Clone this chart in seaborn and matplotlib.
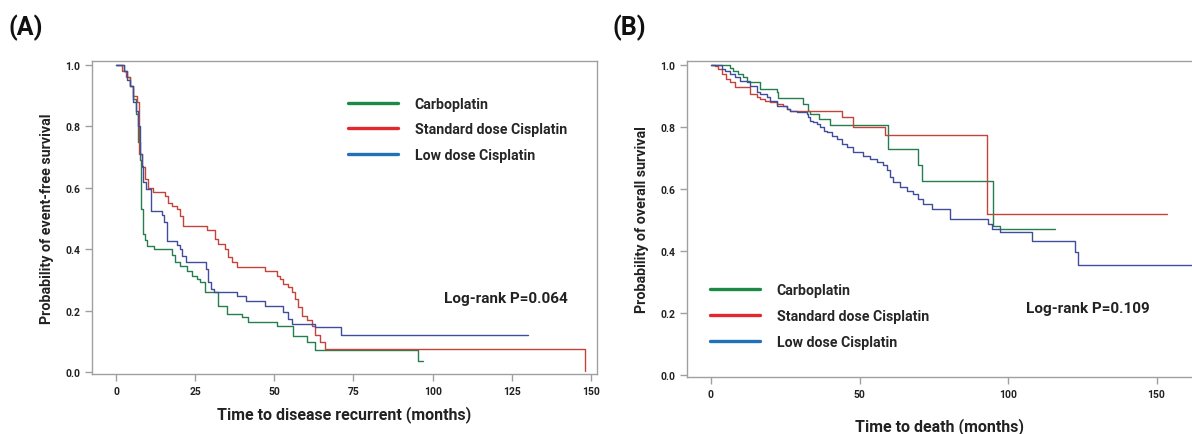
import matplotlib
matplotlib.use('Agg')
import matplotlib.pyplot as plt
from matplotlib.lines import Line2D
import seaborn as sns
import pandas as pd

# grupos
groups = ['Carboplatin', 'Standard dose Cisplatin', 'Low dose Cisplatin']

# (A) sobrevida livre de evento
a_carbo_t = [0, 2.5, 3.5, 4.5, 5.5, 6.3, 7.0, 7.5, 8.0, 8.5, 9.0, 9.8, 12.0, 17.6, 18.6, 20.2, 22.3, 23.9,
             25.5, 26.5, 28.1, 32.3, 35.0, 39.7, 41.8, 50.7, 56.0, 60.2, 63.0, 95.4, 97.0]
a_carbo_s = [1.0, 0.98, 0.96, 0.93, 0.89, 0.84, 0.75, 0.69, 0.53, 0.45, 0.43, 0.41, 0.40, 0.38, 0.357, 0.346,
             0.33, 0.314, 0.303, 0.292, 0.26, 0.216, 0.189, 0.178, 0.162, 0.151, 0.118, 0.097, 0.072, 0.037, 0.037]

a_std_t = [0, 2.0, 3.0, 4.5, 5.5, 6.5, 7.3, 8.3, 9.2, 10.2, 11.8, 15.5, 16.5, 17.6, 19.2, 20.2, 21.3, 28.6,
           31.3, 32.3, 34.4, 35.5, 36.5, 38.1, 47.1, 50.7, 51.8, 52.8, 54.4, 55.5, 56.5, 57.6, 58.6, 60.2,
           61.8, 62.9, 64.4, 66.0, 148.1]
a_std_s = [1.0, 0.98, 0.96, 0.93, 0.90, 0.88, 0.71, 0.667, 0.629, 0.60, 0.585, 0.574, 0.552, 0.542, 0.531,
           0.509, 0.477, 0.461, 0.433, 0.417, 0.401, 0.374, 0.357, 0.341, 0.33, 0.314, 0.303, 0.287, 0.276,
           0.26, 0.238, 0.211, 0.184, 0.168, 0.151, 0.119, 0.097, 0.075, 0.004]

a_low_t = [0, 2.5, 3.5, 4.5, 5.5, 6.2, 7.0, 7.5, 8.2, 8.6, 9.5, 10.9, 14.4, 15.0, 16.0, 19.2, 20.2, 21.0,
           22.0, 28.4, 29.0, 30.0, 31.0, 38.1, 41.0, 47.0, 52.8, 54.4, 55.5, 63.0, 71.2, 130.0]
a_low_s = [1.0, 0.98, 0.95, 0.93, 0.88, 0.85, 0.80, 0.71, 0.67, 0.62, 0.596, 0.525, 0.51, 0.487, 0.428,
           0.415, 0.401, 0.379, 0.357, 0.336, 0.292, 0.27, 0.261, 0.248, 0.232, 0.216, 0.194, 0.173, 0.157,
           0.145, 0.12, 0.12]

# (B) sobrevida global
b_carbo_t = [0, 6.4, 7.5, 9.2, 10.9, 12.0, 13.1, 16.5, 22.1, 22.7, 31.1, 32.8, 33.3, 36.2, 40.1, 59.7,
             69.8, 70.9, 95.1, 97.3, 115.8]
b_carbo_s = [1.0, 0.992, 0.981, 0.971, 0.96, 0.949, 0.944, 0.922, 0.912, 0.893, 0.874, 0.853, 0.842, 0.826,
             0.805, 0.729, 0.676, 0.627, 0.482, 0.471, 0.471]

b_std_t = [0, 1.35, 2.5, 3.6, 5.2, 6.4, 8.1, 13.1, 15.4, 16.5, 18.2, 19.9, 22.1, 24.4, 25.5, 26.6, 44.0,
           47.9, 58.6, 92.8, 153.4]
b_std_s = [1.0, 0.998, 0.987, 0.971, 0.955, 0.944, 0.928, 0.906, 0.896, 0.89, 0.885, 0.88, 0.874, 0.869,
           0.858, 0.853, 0.831, 0.799, 0.774, 0.519, 0.519]

b_low_t = [0, 3.6, 4.7, 6.4, 8.1, 9.8, 12.0, 13.1, 15.4, 16.5, 18.7, 19.9, 22.1, 25.5, 26.6, 28.8, 32.2,
           32.8, 33.3, 34.5, 35.6, 36.7, 37.9, 39.0, 40.7, 42.3, 44.0, 45.7, 47.9, 51.3, 53.5, 55.8, 58.0,
           59.1, 60.3, 61.4, 63.6, 65.9, 68.1, 69.8, 71.5, 74.3, 80.5, 93.4, 94.5, 97.3, 108.0, 122.6, 123.7,
           162.0]
b_low_s = [1.0, 0.987, 0.981, 0.971, 0.96, 0.949, 0.944, 0.933, 0.912, 0.906, 0.896, 0.885, 0.869, 0.858,
           0.853, 0.847, 0.842, 0.831, 0.821, 0.815, 0.81, 0.799, 0.788, 0.783, 0.772, 0.761, 0.745, 0.734,
           0.72, 0.707, 0.697, 0.686, 0.676, 0.66, 0.638, 0.622, 0.605, 0.595, 0.584, 0.568, 0.552, 0.535,
           0.503, 0.487, 0.471, 0.46, 0.433, 0.396, 0.355, 0.355]

curve_colors = ['#247e50', '#c4433b', '#414d9a']
legend_colors = ['#1b8a45', '#e0282e', '#2170b8']


def make_df(curves):
    rows = []
    for g, (t, s) in zip(groups, curves):
        rows.append(pd.DataFrame({'time': t, 'surv': s, 'group': g}))
    return pd.concat(rows, ignore_index=True)


df_a = make_df([(a_carbo_t, a_carbo_s), (a_std_t, a_std_s), (a_low_t, a_low_s)])
df_b = make_df([(b_carbo_t, b_carbo_s), (b_std_t, b_std_s), (b_low_t, b_low_s)])

sns.set_theme(style='ticks')
plt.rcParams['font.family'] = ['Liberation Sans Narrow', 'Roboto', 'DejaVu Sans']

W, H = 1192, 435
fig = plt.figure(figsize=(W / 100, H / 100), dpi=100)
ax_a = fig.add_axes([92 / W, 1 - 375 / H, 505 / W, 313 / H])
ax_b = fig.add_axes([687 / W, 1 - 378 / H, 505 / W, 316 / H])

pal = dict(zip(groups, curve_colors))
for ax, df in [(ax_a, df_a), (ax_b, df_b)]:
    sns.lineplot(data=df, x='time', y='surv', hue='group', palette=pal, estimator=None,
                 drawstyle='steps-post', linewidth=1.0, legend=False, ax=ax)
    ax.set_ylim(-0.0065, 1.013)
    ax.set_yticks([0, 0.2, 0.4, 0.6, 0.8, 1.0])
    ax.set_yticklabels(['0.0', '0.2', '0.4', '0.6', '0.8', '1.0'])
    for sp in ax.spines.values():
        sp.set_color('#a0a0a0')
        sp.set_linewidth(1.0)
    ax.tick_params(colors='#a0a0a0', length=5, width=1.0, labelcolor='#222222', labelsize=7.5)

ax_a.set_xlim(-7.58, 151.9)
ax_a.set_xticks([0, 25, 50, 75, 100, 125, 150])
ax_b.set_xlim(-8.08, 161.95)
ax_b.set_xticks([0, 50, 100, 150])
ax_b.spines['right'].set_visible(False)
for ax in (ax_a, ax_b):
    for lab in ax.get_xticklabels() + ax.get_yticklabels():
        lab.set_fontweight('bold')

xlab_font = dict(fontsize=11.5, fontweight='bold', color='#222222')
ylab_font = dict(fontsize=10.3, fontweight='bold', color='#222222')
ax_a.set_xlabel('Time to disease recurrent (months)', labelpad=7, **xlab_font)
ax_a.set_ylabel('Probability of event-free survival', labelpad=8, **ylab_font)
ax_b.set_xlabel('Time to death (months)', labelpad=13, **xlab_font)
ax_b.set_ylabel('Probability of overall survival', labelpad=8, **ylab_font)

handles = [Line2D([], [], color=c, lw=2.4) for c in legend_colors]
leg_font = {'family': ['Roboto', 'DejaVu Sans'], 'weight': 'bold', 'size': 10.2}
ax_a.legend(handles, groups, loc='upper left', bbox_to_anchor=(348 / W, 1 - 98 / H),
            bbox_transform=fig.transFigure, frameon=False, prop=leg_font, handlelength=3.5,
            handletextpad=1.2, labelspacing=0.8, borderpad=0, borderaxespad=0)
ax_b.legend(handles, groups, loc='upper left', bbox_to_anchor=(710 / W, 1 - 284 / H),
            bbox_transform=fig.transFigure, frameon=False, prop=leg_font, handlelength=3.5,
            handletextpad=1.2, labelspacing=0.85, borderpad=0, borderaxespad=0)

lr_font = dict(fontsize=11, fontweight='bold', color='#222222', family=['Roboto', 'DejaVu Sans'],
               va='center', ha='left')
fig.text(444 / W, 1 - 299 / H, 'Log-rank P=0.064', **lr_font)
fig.text(1026 / W, 1 - 309 / H, 'Log-rank P=0.109', **lr_font)

fig.text(9 / W, 1 - 28 / H, '(A)', fontsize=18, fontweight='bold', va='center', ha='left', color='#111111')
fig.text(613 / W, 1 - 28 / H, '(B)', fontsize=18, fontweight='bold', va='center', ha='left', color='#111111')

fig.savefig('out.png', dpi=100, facecolor='white')
